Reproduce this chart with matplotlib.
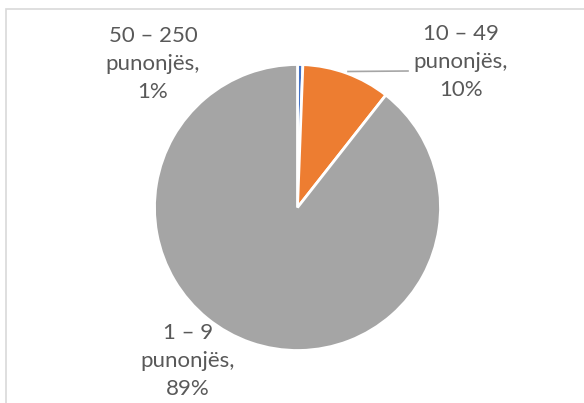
import matplotlib
matplotlib.use("Agg")
import matplotlib.pyplot as plt
from matplotlib.patches import Rectangle

categories = ["50 – 250 punonjës", "10 – 49 punonjës", "1 – 9 punonjës"]
values = [0.6, 10.0, 89.4]
colors = ["#4472C4", "#ED7D31", "#A5A5A5"]

W, H = 584, 403
fig = plt.figure(figsize=(W / 100, H / 100), dpi=100)
ax = fig.add_axes([0, 0, 1, 1])

cx, cy, r = 297.5, H - 207.5, 143
ax.pie(values, colors=colors, startangle=90, counterclock=False,
       center=(cx, cy), radius=r, frame=True,
       wedgeprops=dict(edgecolor="white", linewidth=2))
ax.set_xlim(0, W)
ax.set_ylim(0, H)
ax.axis("off")

# chart frame
ax.add_patch(Rectangle((6, -20), W + 20, H - 9 + 20, fill=False,
                       edgecolor="#D9D9D9", lw=1.2))

def lab(i):
    name = categories[i].split(" punonjës")[0]
    return f"{name}\npunonjës,\n{round(values[i]):.0f}%"

fs = 16
tc = "#595959"
font = "Lato"
ls = 1.52
ax.text(153, H - 64, lab(0), ha="center", va="center", fontsize=fs,
        color=tc, family=font, linespacing=ls)
ax.text(461, H - 62, lab(1), ha="center", va="center", fontsize=fs,
        color=tc, family=font, linespacing=ls)
ax.text(188, H - 361, lab(2), ha="center", va="center", fontsize=fs,
        color=tc, family=font, linespacing=ls)
ax.plot([348, 408], [H - 71.5, H - 71], color="#A6A6A6", lw=1.2)

fig.savefig("out.png", dpi=100)
